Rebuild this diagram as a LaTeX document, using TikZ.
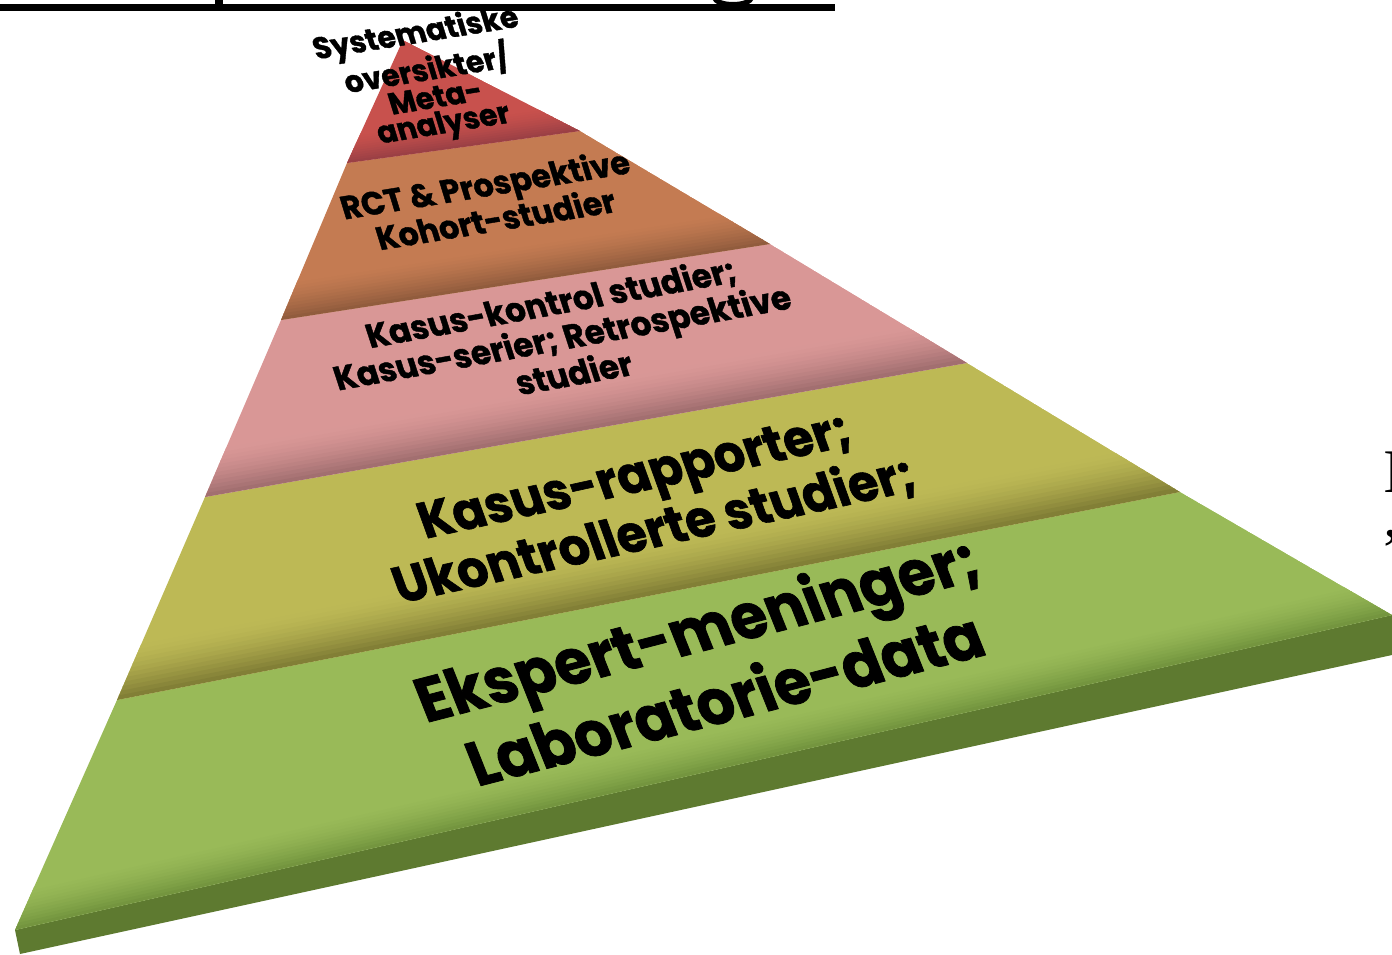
\documentclass[tikz,border=0pt]{standalone}
\usepackage{fontspec}
\newfontfamily\pyr{Poppins}[BoldFeatures={FakeBold=1.2}]
\newfontfamily\serifR{Liberation Serif}
\definecolor{redB}{HTML}{C8514D}
\definecolor{redD}{HTML}{983F44}
\definecolor{oraB}{HTML}{C47B52}
\definecolor{oraD}{HTML}{8E5A3C}
\definecolor{pinB}{HTML}{D99796}
\definecolor{pinD}{HTML}{9E6C6E}
\definecolor{yelB}{HTML}{BDB955}
\definecolor{yelD}{HTML}{7E7B34}
\definecolor{grnB}{HTML}{99BA58}
\definecolor{grnD}{HTML}{71933D}
\definecolor{grnF}{HTML}{5E7A30}
\newcommand{\layerband}[5]{%
  \begin{scope}[shift={#1}, rotate=#2]
    \foreach \k in {0,...,11}{
      \pgfmathsetmacro\pct{100*((\k+0.5)/12)^1.5}
      \fill[#5!\pct!#4] (-400,{-#3+\k*#3/12}) rectangle (1900,{-#3+(\k+1)*#3/12+0.8});
    }
  \end{scope}}
\tikzset{
  lbl/.style={text=black, align=center, inner sep=0pt, xslant=-0.15},
}
\begin{document}
\begin{tikzpicture}[x=1pt,y=-1pt]
\useasboundingbox (0,0) rectangle (1392,955);
\clip (0,0) rectangle (1392,955);
% corner points
\coordinate (A) at (403,40);
\coordinate (P2L) at (347,163); \coordinate (P2R) at (580,131);
\coordinate (P3L) at (281,320); \coordinate (P3R) at (770,244);
\coordinate (P4L) at (205,497); \coordinate (P4R) at (967,363);
\coordinate (P5L) at (117,700); \coordinate (P5R) at (1180,492);
\coordinate (P6L) at (15,930);  \coordinate (P6R) at (1392,615);
\coordinate (F6L) at (20,954);  \coordinate (F6R) at (1392,655);
% title rule with the descenders of the cut-off title
\fill[black] (0,4) rectangle (835,11);
\fill[black] (215,0) rectangle (223,5);
\draw[black, line width=5pt] (714,-3) .. controls (716,7) and (750,7) .. (752,-3);
% green layer
\fill[grnF] (P6L) -- (P6R) -- (F6R) -- (F6L) -- cycle;
\begin{scope}
  \clip (P5L) -- (P5R) -- (P6R) -- (P6L) -- cycle;
  \fill[grnB] (P5L) -- (P5R) -- (P6R) -- (P6L) -- cycle;
  \layerband{(P6L)}{12.9}{38}{grnB}{grnD}
\end{scope}
% yellow layer
\begin{scope}
  \clip (P4L) -- (P4R) -- (P5R) -- (P5L) -- cycle;
  \fill[yelB] (P4L) -- (P4R) -- (P5R) -- (P5L) -- cycle;
  \layerband{(P5L)}{11.1}{50}{yelB}{yelD}
\end{scope}
% pink layer
\begin{scope}
  \clip (P3L) -- (P3R) -- (P4R) -- (P4L) -- cycle;
  \fill[pinB] (P3L) -- (P3R) -- (P4R) -- (P4L) -- cycle;
  \layerband{(P4L)}{10.0}{45}{pinB}{pinD}
\end{scope}
% orange layer
\begin{scope}
  \clip (P2L) -- (P2R) -- (P3R) -- (P3L) -- cycle;
  \fill[oraB] (P2L) -- (P2R) -- (P3R) -- (P3L) -- cycle;
  \layerband{(P3L)}{8.8}{38}{oraB}{oraD}
\end{scope}
% red layer
\begin{scope}
  \clip (A) -- (P2R) -- (P2L) -- cycle;
  \fill[redB] (A) -- (P2R) -- (P2L) -- cycle;
  \layerband{(P2L)}{7.8}{28}{redB}{redD}
\end{scope}
% labels
\node[lbl, rotate=9, font=\pyr\bfseries\fontsize{30}{26}\selectfont] (t1) at (430,80)
  {Systematiske\\oversikter/\\Meta-\\analyser};
\node[lbl, rotate=9, font=\pyr\bfseries\fontsize{32}{30}\selectfont] (t2) at (490,201)
  {RCT \& Prospektive\\Kohort-studier};
\node[lbl, rotate=10, font=\pyr\bfseries\fontsize{33}{35}\selectfont] (t3) at (562,337)
  {Kasus-kontrol studier;\\Kasus-serier; Retrospektive\\studier};
\node[lbl, rotate=12, font=\pyr\bfseries\fontsize{50}{56}\selectfont] (t4) at (645,505)
  {Kasus-rapporter;\\Ukontrollerte studier;};
\node[lbl, rotate=14, font=\pyr\bfseries\fontsize{61}{72}\selectfont] (t5) at (710,662)
  {Ekspert-meninger;\\Laboratorie-data};
% cut-off text at the right margin
\node[anchor=base west, inner sep=0pt, font=\serifR\fontsize{62}{62}\selectfont] (r1) at (1383,492) {I};
\node[anchor=base west, inner sep=0pt, font=\serifR\fontsize{62}{62}\selectfont] (r2) at (1383,571) {”};
\end{tikzpicture}
\end{document}
